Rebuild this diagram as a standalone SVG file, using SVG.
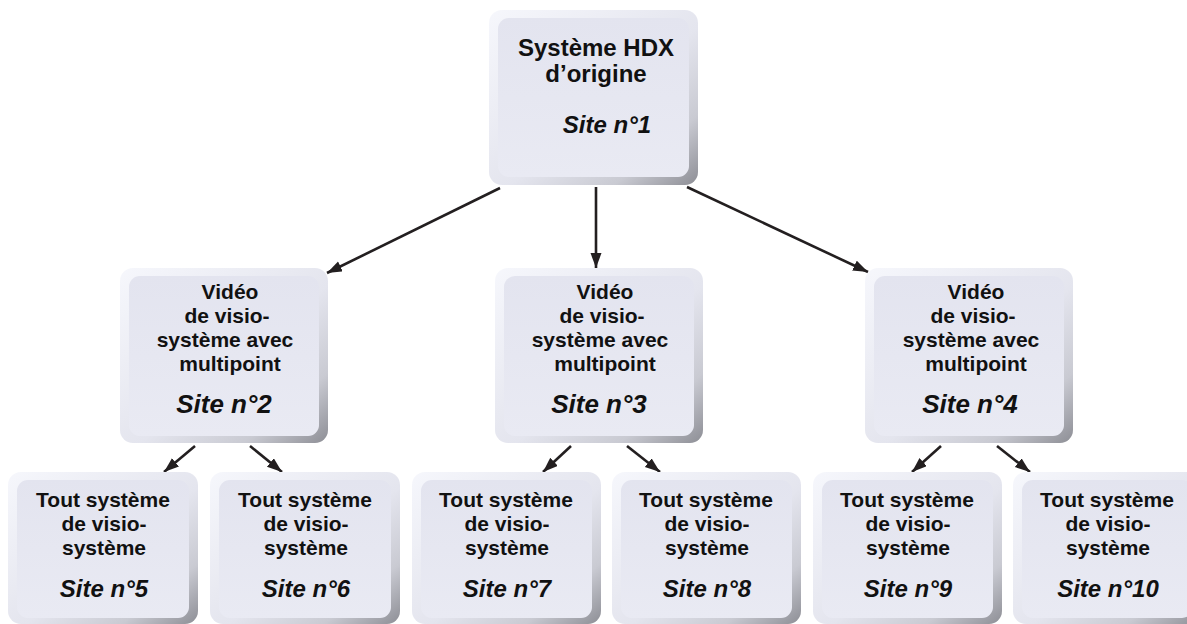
<svg xmlns="http://www.w3.org/2000/svg" width="1187" height="624" viewBox="0 0 1187 624">
<defs>
<linearGradient id="outerG" x1="0" y1="0" x2="1" y2="1">
<stop offset="0" stop-color="#f6f7fc"/>
<stop offset="0.55" stop-color="#e4e5ee"/>
<stop offset="0.8" stop-color="#c9cad2"/>
<stop offset="1" stop-color="#8d8e95"/>
</linearGradient>
<linearGradient id="innerG" x1="0" y1="0" x2="0" y2="1">
<stop offset="0" stop-color="#e3e4ef"/>
<stop offset="1" stop-color="#e9eaf3"/>
</linearGradient>
<marker id="ah" markerUnits="userSpaceOnUse" markerWidth="16" markerHeight="12" refX="15" refY="5.5" orient="auto">
<path d="M0,0 L15,5.5 L0,11 z" fill="#231f20"/>
</marker>
</defs>
<style>
.o{fill:url(#outerG);}
.i{fill:url(#innerG);}
.t{font-family:"Liberation Sans",Arial,sans-serif;font-weight:bold;font-size:21px;fill:#111;text-anchor:middle;}
.tt{font-size:24px;}
.s{font-family:"Liberation Sans",Arial,sans-serif;font-weight:bold;font-style:italic;font-size:24px;fill:#111;text-anchor:middle;}
.sm{font-size:26px;}
.c{stroke:#231f20;stroke-width:2.6;fill:none;marker-end:url(#ah);}
</style>
<rect width="1187" height="624" fill="#ffffff"/>

<g id="connectors">
<line class="c" x1="596" y1="187" x2="596" y2="268"/>
<line class="c" x1="500" y1="188" x2="327" y2="273"/>
<line class="c" x1="687" y1="187" x2="868" y2="272"/>
<line class="c" x1="195" y1="446" x2="164" y2="472"/>
<line class="c" x1="250" y1="446" x2="282" y2="472"/>
<line class="c" x1="571" y1="446" x2="543" y2="472"/>
<line class="c" x1="627" y1="446" x2="660" y2="472"/>
<line class="c" x1="941" y1="446" x2="912" y2="472"/>
<line class="c" x1="997" y1="446" x2="1030" y2="472"/>
</g>

<g id="site1">
<rect class="o" x="489" y="10" width="209" height="175" rx="13"/>
<rect class="i" x="498" y="18" width="191" height="159" rx="11"/>
<text class="t tt" x="596" y="56">Système HDX</text>
<text class="t tt" x="596" y="82">d’origine</text>
<text class="s" x="607" y="133">Site n°1</text>
</g>

<g id="site2">
<rect class="o" x="120" y="268" width="208" height="175" rx="13"/>
<rect class="i" x="129" y="276" width="190" height="160" rx="11"/>
<text class="t" x="230" y="299">Vidéo</text>
<text class="t" x="227" y="323">de visio-</text>
<text class="t" x="225" y="347">système avec</text>
<text class="t" x="230" y="371">multipoint</text>
<text class="s sm" x="224" y="413">Site n°2</text>
</g>

<g id="site3">
<rect class="o" x="495" y="268" width="208" height="175" rx="13"/>
<rect class="i" x="504" y="276" width="190" height="160" rx="11"/>
<text class="t" x="605" y="299">Vidéo</text>
<text class="t" x="602" y="323">de visio-</text>
<text class="t" x="600" y="347">système avec</text>
<text class="t" x="605" y="371">multipoint</text>
<text class="s sm" x="599" y="413">Site n°3</text>
</g>

<g id="site4">
<rect class="o" x="865" y="268" width="208" height="175" rx="13"/>
<rect class="i" x="874" y="276" width="190" height="160" rx="11"/>
<text class="t" x="976" y="299">Vidéo</text>
<text class="t" x="973" y="323">de visio-</text>
<text class="t" x="971" y="347">système avec</text>
<text class="t" x="976" y="371">multipoint</text>
<text class="s sm" x="970" y="413">Site n°4</text>
</g>

<g id="site5">
<rect class="o" x="8" y="472" width="190" height="152" rx="13"/>
<rect class="i" x="17" y="480" width="172" height="138" rx="11"/>
<text class="t" x="103" y="507">Tout système</text>
<text class="t" x="104" y="531">de visio-</text>
<text class="t" x="104" y="555">système</text>
<text class="s" x="104" y="597">Site n°5</text>
</g>

<g id="site6">
<rect class="o" x="210" y="472" width="190" height="152" rx="13"/>
<rect class="i" x="219" y="480" width="172" height="138" rx="11"/>
<text class="t" x="305" y="507">Tout système</text>
<text class="t" x="306" y="531">de visio-</text>
<text class="t" x="306" y="555">système</text>
<text class="s" x="306" y="597">Site n°6</text>
</g>

<g id="site7">
<rect class="o" x="412" y="472" width="189" height="152" rx="13"/>
<rect class="i" x="421" y="480" width="171" height="138" rx="11"/>
<text class="t" x="506" y="507">Tout système</text>
<text class="t" x="507" y="531">de visio-</text>
<text class="t" x="507" y="555">système</text>
<text class="s" x="507" y="597">Site n°7</text>
</g>

<g id="site8">
<rect class="o" x="612" y="472" width="189" height="152" rx="13"/>
<rect class="i" x="621" y="480" width="171" height="138" rx="11"/>
<text class="t" x="706" y="507">Tout système</text>
<text class="t" x="707" y="531">de visio-</text>
<text class="t" x="707" y="555">système</text>
<text class="s" x="707" y="597">Site n°8</text>
</g>

<g id="site9">
<rect class="o" x="813" y="472" width="189" height="152" rx="13"/>
<rect class="i" x="822" y="480" width="171" height="138" rx="11"/>
<text class="t" x="907" y="507">Tout système</text>
<text class="t" x="908" y="531">de visio-</text>
<text class="t" x="908" y="555">système</text>
<text class="s" x="908" y="597">Site n°9</text>
</g>

<g id="site10">
<rect class="o" x="1013" y="472" width="189" height="152" rx="13"/>
<rect class="i" x="1022" y="480" width="171" height="138" rx="11"/>
<text class="t" x="1107" y="507">Tout système</text>
<text class="t" x="1108" y="531">de visio-</text>
<text class="t" x="1108" y="555">système</text>
<text class="s" x="1108" y="597">Site n°10</text>
</g>
</svg>
